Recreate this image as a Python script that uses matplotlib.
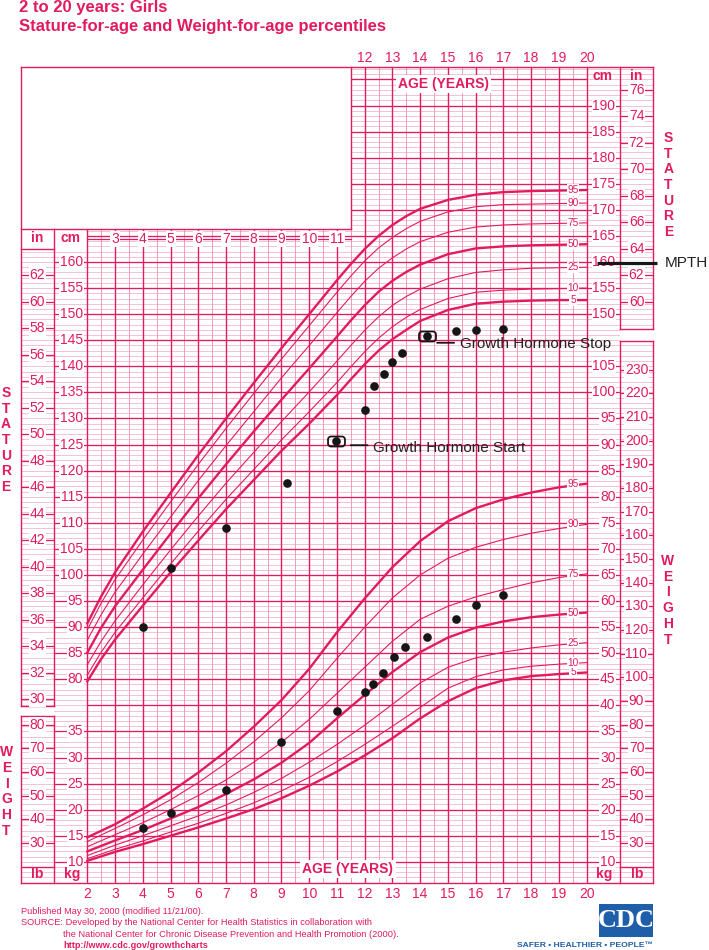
import numpy as np
import matplotlib
matplotlib.use("Agg")
import matplotlib.pyplot as plt
from matplotlib.path import Path
from matplotlib.patches import Rectangle
from matplotlib.transforms import offset_copy

plt.rcParams['font.family'] = ['Liberation Sans', 'DejaVu Sans']

PINK = "#e11b5f"
LIGHT = "#f4b9cc"
MID = "#ee8cae"
INK = "#161616"
BLUE = "#1f5ea8"

# percentile curves
percentiles = [5, 10, 25, 50, 75, 90, 95]

stat_ages = [2, 2.5, 3, 4, 5, 6, 7, 8, 9, 10, 11, 11.5, 12, 12.5, 13, 13.5, 14, 15, 16, 17, 18, 19, 20]
stat_p5 = [79.6, 83.9, 87.6, 94.1, 100.5, 106.6, 112.6, 118.2, 123.8, 129.0, 134.5, 137.5, 140.4, 143.0, 145.2, 147.0, 148.7, 150.8, 152.0, 152.4, 152.6, 152.7, 152.7]
stat_p10 = [80.8, 85.2, 89.0, 95.6, 102.1, 108.4, 114.5, 120.2, 125.9, 131.3, 136.9, 139.9, 142.8, 145.4, 147.6, 149.4, 150.9, 153.0, 154.2, 154.6, 154.8, 154.9, 155.0]
stat_p25 = [82.8, 87.3, 91.2, 98.1, 104.8, 111.3, 117.6, 123.5, 129.4, 135.1, 141.0, 144.0, 146.9, 149.5, 151.7, 153.4, 154.8, 156.8, 158.0, 158.5, 158.8, 158.9, 159.0]
stat_p50 = [85.1, 89.9, 94.0, 101.0, 107.9, 114.7, 121.2, 127.5, 133.6, 139.6, 145.7, 148.8, 151.7, 154.3, 156.4, 158.1, 159.5, 161.5, 162.6, 163.0, 163.2, 163.3, 163.4]
stat_p75 = [87.5, 92.4, 96.7, 104.0, 111.1, 118.1, 124.8, 131.3, 137.8, 144.0, 150.3, 153.4, 156.3, 158.8, 160.8, 162.5, 163.9, 165.7, 166.7, 167.1, 167.3, 167.4, 167.5]
stat_p90 = [89.5, 94.6, 99.1, 106.7, 114.0, 121.2, 128.1, 134.8, 141.4, 147.8, 154.2, 157.3, 160.2, 162.7, 164.7, 166.4, 167.8, 169.6, 170.6, 171.0, 171.1, 171.2, 171.3]
stat_p95 = [90.7, 95.9, 100.5, 108.3, 115.7, 123.0, 130.0, 136.8, 143.5, 150.0, 156.5, 159.6, 162.5, 165.0, 167.1, 168.8, 170.2, 171.9, 172.9, 173.4, 173.6, 173.7, 173.8]

wt_ages = [2, 3, 4, 5, 6, 7, 8, 9, 10, 11, 12, 13, 14, 15, 16, 17, 18, 19, 20]
wt_p5 = [10.2, 11.9, 13.4, 15.0, 16.6, 18.3, 20.1, 22.2, 24.6, 27.3, 30.4, 33.7, 37.5, 40.8, 43.3, 44.8, 45.6, 46.0, 46.3]
wt_p10 = [10.6, 12.4, 14.0, 15.7, 17.4, 19.3, 21.3, 23.6, 26.2, 29.2, 32.5, 36.0, 39.6, 43.3, 45.5, 46.8, 47.5, 47.9, 48.2]
wt_p25 = [11.2, 13.2, 15.0, 16.9, 18.8, 20.9, 23.3, 26.0, 29.1, 32.5, 36.2, 40.2, 44.3, 47.3, 49.1, 50.2, 51.0, 51.6, 52.0]
wt_p50 = [12.0, 14.1, 16.1, 18.3, 20.5, 23.0, 25.8, 29.0, 32.8, 37.5, 42.0, 46.4, 50.2, 53.0, 54.9, 56.1, 56.9, 57.4, 57.8]
wt_p75 = [12.9, 15.2, 17.5, 20.0, 22.7, 25.7, 29.1, 32.9, 37.3, 42.3, 47.3, 52.3, 56.5, 59.0, 60.8, 62.2, 63.5, 64.5, 65.2]
wt_p90 = [13.9, 16.4, 19.0, 21.9, 25.2, 28.9, 33.0, 37.6, 42.8, 49.0, 55.0, 60.6, 65.0, 68.2, 70.3, 71.8, 73.0, 73.9, 74.7]
wt_p95 = [14.7, 17.2, 20.2, 23.4, 27.1, 31.2, 35.9, 41.0, 47.0, 54.0, 60.5, 66.5, 71.5, 75.3, 77.8, 79.5, 80.8, 81.8, 82.5]

# the patient's measurements
visit_ages_stat = [4.0, 5.0, 7.0, 9.2, 10.95, 12.0, 12.35, 12.7, 13.0, 13.35, 14.25, 15.3, 16.0, 17.0]
visit_stature = [90.0, 101.4, 109.0, 117.6, 125.7, 131.6, 136.3, 138.6, 140.8, 142.6, 145.8, 146.8, 147.0, 147.1]
visit_ages_wt = [4.0, 5.0, 7.0, 9.0, 11.0, 12.0, 12.3, 12.65, 13.05, 13.45, 14.25, 15.3, 16.0, 17.0]
visit_weight = [16.5, 19.3, 23.7, 32.9, 38.9, 42.5, 44.0, 46.2, 49.2, 51.2, 53.2, 56.6, 59.2, 61.2]
gh_start = (10.95, 125.7)
gh_stop = (14.25, 145.8)
mpth_cm = 159.8

# ---- layout (pixels of the 709x950 sheet) ----
W, H = 709, 950
X_AGE2, PX_YEAR = 87.3, 27.74
Y_CM160, PX_CM = 262.0, 5.216
KG_SHIFT = 35   # the 10 kg line is the 45 cm line


def age_at(px):
    return 2 + (px - X_AGE2) / PX_YEAR


def cm_at(py):
    return 160 - (py - Y_CM160) / PX_CM


L, R, T, B = 21, 653, 67, 883
fig = plt.figure(figsize=(W / 100, H / 100), dpi=100)
fig.patch.set_facecolor("white")
ax = fig.add_axes([L / W, 1 - B / H, (R - L) / W, (B - T) / H])
ax.set_xlim(age_at(L), age_at(R))
ax.set_ylim(cm_at(B), cm_at(T))
ax.axis("off")
axw = ax.twinx()
axw.set_ylim(cm_at(B) - KG_SHIFT, cm_at(T) - KG_SHIFT)
axw.axis("off")

# grid
y0, y1 = cm_at(B), cm_at(T)
cm_lines = np.arange(np.ceil(y0), np.floor(y1) + 1)
ax.hlines(cm_lines[cm_lines % 5 != 0], 2, 20, color=LIGHT, lw=0.6, zorder=1)
ax.hlines(cm_lines[cm_lines % 5 == 0], 2, 20, color=PINK, lw=0.95, zorder=2)
ax.vlines(np.arange(2.5, 20, 1), y0, y1, color=MID, lw=0.6, zorder=1.5)
ax.vlines(np.arange(2, 21), y0, y1, color=PINK, lw=1.0, zorder=2)
# faint lines in the side columns
ax.hlines(cm_lines[cm_lines < cm_at(249)], age_at(21), 2, color=LIGHT, lw=0.6, zorder=1)
ax.hlines(cm_lines, 20, age_at(653), color=LIGHT, lw=0.6, zorder=1)


def white_rect(px0, py0, px1, py1):
    ax.add_patch(Rectangle((age_at(px0), cm_at(py1)), age_at(px1) - age_at(px0),
                           cm_at(py0) - cm_at(py1), fc="white", ec="none", zorder=5))


white_rect(21, 67, 351, 229)
white_rect(21, 706, 54, 716)
white_rect(620, 329, 653, 341)


def vline(px, py0, py1, lw=1.0):
    ax.plot([age_at(px)] * 2, [cm_at(py0), cm_at(py1)], color=PINK, lw=lw, clip_on=False, zorder=6)


def hline(py, px0, px1, lw=1.0):
    ax.plot([age_at(px0), age_at(px1)], [cm_at(py)] * 2, color=PINK, lw=lw, clip_on=False, zorder=6)


vline(21, 67, 706); vline(21, 716, 883)
vline(54, 229, 706); vline(54, 716, 883)
vline(351, 67, 229)
vline(620, 67, 329); vline(620, 341, 883)
vline(653, 67, 329); vline(653, 341, 883)
hline(67, 21, 653); hline(883, 21, 653)
hline(229, 21, 351); hline(249, 21, 54)
hline(706, 21, 54); hline(716, 21, 54)
hline(867, 21, 54); hline(867, 620, 653)
hline(329, 620, 653); hline(341, 620, 653)
hline(239.3, 87, 351, lw=0.9)

# age labels
for a in range(3, 12):
    ax.text(a, cm_at(239.3), str(a), ha="center", va="center", fontsize=10, color=PINK,
            bbox=dict(fc="white", ec="none", pad=0.8), zorder=7)
for a in range(12, 21):
    ax.text(a, cm_at(57.5), str(a), ha="center", va="center", fontsize=10, color=PINK)
for a in range(2, 21):
    ax.text(a, cm_at(894), str(a), ha="center", va="center", fontsize=10, color=PINK)
for px, py in [(443.8, 84), (348, 869.3)]:
    ax.text(age_at(px), cm_at(py), "AGE (YEARS)", ha="center", va="center", fontsize=10,
            fontweight="bold", color=PINK, bbox=dict(fc="white", ec="none", pad=1.5), zorder=7)
for txt, px, py in [("in", 37.5, 238.5), ("cm", 70.5, 238.5), ("cm", 603, 75.5), ("in", 636.5, 75.5),
                    ("lb", 37.5, 874), ("kg", 72.5, 874), ("kg", 604, 874), ("lb", 637, 874)]:
    ax.text(age_at(px), cm_at(py), txt, ha="center", va="center", fontsize=10,
            fontweight="bold", color=PINK, zorder=7)


def side_labels(axis, values, px_anchor, ha, px0, px1, conv=1.0):
    for v in values:
        y = v * conv
        axis.hlines(y, age_at(px0), age_at(px1), color=PINK, lw=0.9, zorder=6)
        axis.text(age_at(px_anchor), y, str(v), ha=ha, va="center", fontsize=10, color=PINK,
                  bbox=dict(fc="white", ec="none", pad=0.6), zorder=7)


side_labels(ax, range(80, 161, 5), 83, "right", 54, 87)
side_labels(axw, range(10, 36, 5), 83, "right", 54, 87)
side_labels(ax, range(150, 191, 5), 615.5, "right", 587, 620)
side_labels(axw, range(10, 106, 5), 615.5, "right", 587, 620)
side_labels(ax, range(30, 63, 2), 37.5, "center", 21, 54, 2.54)
side_labels(ax, range(60, 77, 2), 636.5, "center", 620, 653, 2.54)
side_labels(axw, range(30, 81, 10), 37.5, "center", 21, 54, 0.45359)
side_labels(axw, range(30, 231, 10), 636.5, "center", 620, 653, 0.45359)


def stack(word, px, py0, step):
    for i, ch in enumerate(word):
        fig.text(px / W, 1 - (py0 + i * step) / H, ch, ha="center", va="center",
                 fontsize=10, fontweight="bold", color=PINK)


stack("STATURE", 6, 393.3, 15.6)
stack("STATURE", 668.5, 138.3, 15.57)
stack("WEIGHT", 6.5, 752.3, 15.7)
stack("WEIGHT", 668, 561, 15.7)

# percentile curves
stat_curves = [stat_p5, stat_p10, stat_p25, stat_p50, stat_p75, stat_p90, stat_p95]
wt_curves = [wt_p5, wt_p10, wt_p25, wt_p50, wt_p75, wt_p90, wt_p95]
for axis, ages, curves in [(ax, stat_ages, stat_curves), (axw, wt_ages, wt_curves)]:
    for p, vals in zip(percentiles, curves):
        heavy = p in (5, 50, 95)
        axis.plot(ages, vals, color=PINK, lw=1.7 if heavy else 0.8, zorder=4)
        axis.text(age_at(573), vals[-1], str(p), ha="center", va="center", fontsize=7.3,
                  color=PINK, bbox=dict(fc="white", ec="none", pad=0.5), zorder=7)

# measurements
ax.plot(visit_ages_stat, visit_stature, "o", color=INK, ms=5.2, zorder=8)
axw.plot(visit_ages_wt, visit_weight, "o", color=INK, ms=5.2, zorder=8)


def rounded_box(w=1.7, h=1.0, r=0.3, n=7):
    verts = []
    corners = [(w / 2 - r, h / 2 - r, 0), (-w / 2 + r, h / 2 - r, 90),
               (-w / 2 + r, -h / 2 + r, 180), (w / 2 - r, -h / 2 + r, 270)]
    for cx, cy, a0 in corners:
        for t in np.radians(np.linspace(a0, a0 + 90, n)):
            verts.append((cx + r * np.cos(t), cy + r * np.sin(t)))
    verts.append(verts[0])
    return Path(verts, closed=True)


box = rounded_box()


def note(point, text, line_from, line_to, line_dy, text_dx, text_dy):
    a, c = point
    ax.plot([a], [c], marker=box, ms=12.2, mfc="none", mec=INK, mew=1.3, zorder=8)
    ax.annotate("", xy=(a, c), xytext=(a, c),
                xycoords=offset_copy(ax.transData, fig=fig, x=line_to, y=line_dy, units="dots"),
                textcoords=offset_copy(ax.transData, fig=fig, x=line_from, y=line_dy, units="dots"),
                arrowprops=dict(arrowstyle="-", lw=1.3, color=INK, shrinkA=0, shrinkB=0), zorder=8)
    ax.annotate(text, xy=(a, c), xytext=(text_dx, text_dy), textcoords="offset pixels",
                ha="left", va="center", fontsize=11, color="#222222", zorder=8)


note(gh_start, "Growth Hormone Start", 15, 32, -4.3, 37, -7)
note(gh_stop, "Growth Hormone Stop", 10, 27, -6.7, 32.5, -8)

ax.plot([age_at(597), age_at(657)], [mpth_cm, mpth_cm], color=INK, lw=2.3,
        solid_capstyle="butt", clip_on=False, zorder=9)
ax.text(age_at(665), mpth_cm, "MPTH", ha="left", va="center", fontsize=11, color="#222222")

# titles and footer
fig.text(19 / W, 1 - 7.5 / H, "2 to 20 years: Girls", fontsize=12, fontweight="bold",
         color=PINK, va="center")
fig.text(19 / W, 1 - 26.7 / H, "Stature-for-age and Weight-for-age percentiles", fontsize=12,
         fontweight="bold", color=PINK, va="center")
fig.text(21 / W, 1 - 911.7 / H, "Published May 30, 2000 (modified 11/21/00).", fontsize=6.6,
         color=PINK, va="center")
fig.text(21 / W, 1 - 922.7 / H,
         "SOURCE: Developed by the National Center for Health Statistics in collaboration with",
         fontsize=6.7, color=PINK, va="center")
fig.text(63 / W, 1 - 934.3 / H,
         "the National Center for Chronic Disease Prevention and Health Promotion (2000).",
         fontsize=6.7, color=PINK, va="center")
fig.text(63 / W, 1 - 945.7 / H, "http://www.cdc.gov/growthcharts", fontsize=6.6,
         fontweight="bold", color=PINK, va="center")

fig.patches.append(Rectangle((599 / W, 1 - 937 / H), 54 / W, 33 / H, transform=fig.transFigure,
                             fc=BLUE, ec="none"))
fig.text(626 / W, 1 - 920.5 / H, "CDC", fontsize=19, fontweight="bold", family="Liberation Serif",
         color="white", ha="center", va="center")
fig.text(653 / W, 1 - 945.7 / H, "SAFER \u2022 HEALTHIER \u2022 PEOPLE\u2122", fontsize=6.1,
         fontweight="bold", color=BLUE, ha="right", va="center")

fig.savefig("out.png", dpi=100)
